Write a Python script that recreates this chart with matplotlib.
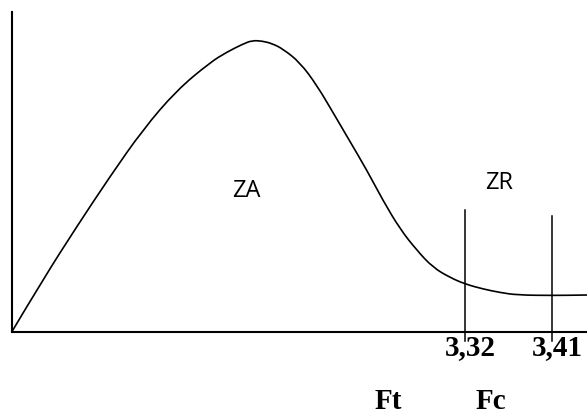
"""Sketch of the F distribution with acceptance / rejection zones (Ft, Fc)."""
import numpy as np
import matplotlib
matplotlib.use("Agg")
import matplotlib.pyplot as plt
from matplotlib.path import Path
from matplotlib.patches import PathPatch

# curve (arbitrary units, origin at the axes corner)
curve_x = [0, 31, 64.5, 98, 131, 164.5, 198, 215, 231, 240, 250, 260, 271,
           288, 305, 321, 338, 355, 371, 388, 405, 421, 438, 453, 471, 488,
           505, 540, 575]
curve_y = [0, 52, 104.5, 155, 202, 241, 269, 279.5, 287.5, 291, 290.5, 288,
           282.5, 269, 246, 219, 190, 161, 131, 102.5, 81, 64, 54, 47.5, 42.5,
           39, 36.5, 36, 36.5]

crit_x = [453, 540]
crit_top = [121.5, 115.5]
crit_labels = ["3,32", "3,41"]
bottom_labels = ["Ft", "Fc"]
zone_labels = ["ZA", "ZR"]

fig = plt.figure(figsize=(5.87, 4.14), dpi=100)
ax = fig.add_axes([0, 0, 1, 1])
ax.set_xlim(-12, 575)
ax.set_ylim(-81.5, 332.5)

# smooth the read points with quadratic bezier segments (points act as controls)
pts = np.column_stack([curve_x, curve_y])
verts = [pts[0]]
codes = [Path.MOVETO]
for i in range(1, len(pts) - 1):
    mid = (pts[i] + pts[i + 1]) / 2
    verts += [pts[i], mid]
    codes += [Path.CURVE3, Path.CURVE3]
verts.append(pts[-1])
codes.append(Path.LINETO)
ax.add_patch(PathPatch(Path(verts, codes), facecolor="none", edgecolor="black",
                       linewidth=1.2))

for x, top, lab in zip(crit_x, crit_top, crit_labels):
    ax.plot([x, x], [-9.5, top], color="black", linewidth=1.1)
    ax.text(x - 20, -15.5, lab, ha="left", va="center", fontsize=21,
            fontweight="bold", family="Liberation Serif")

for x, lab in zip([376, 479], bottom_labels):
    ax.text(x, -69.5, lab, ha="center", va="center", fontsize=21,
            fontweight="bold", family="Liberation Serif")

for (x, y), lab in zip([(234, 141.5), (487, 149.5)], zone_labels):
    ax.text(x, y, lab, ha="center", va="center", fontsize=17, family="Open Sans")

for side in ["top", "right"]:
    ax.spines[side].set_visible(False)
ax.spines["left"].set_position(("data", 0))
ax.spines["bottom"].set_position(("data", 0))
ax.spines["left"].set_bounds(0, 319.5)
ax.spines["bottom"].set_bounds(0, 575)
ax.spines["left"].set_linewidth(1.5)
ax.spines["bottom"].set_linewidth(1.5)
ax.set_xticks([])
ax.set_yticks([])

fig.savefig("out.png", dpi=100)
